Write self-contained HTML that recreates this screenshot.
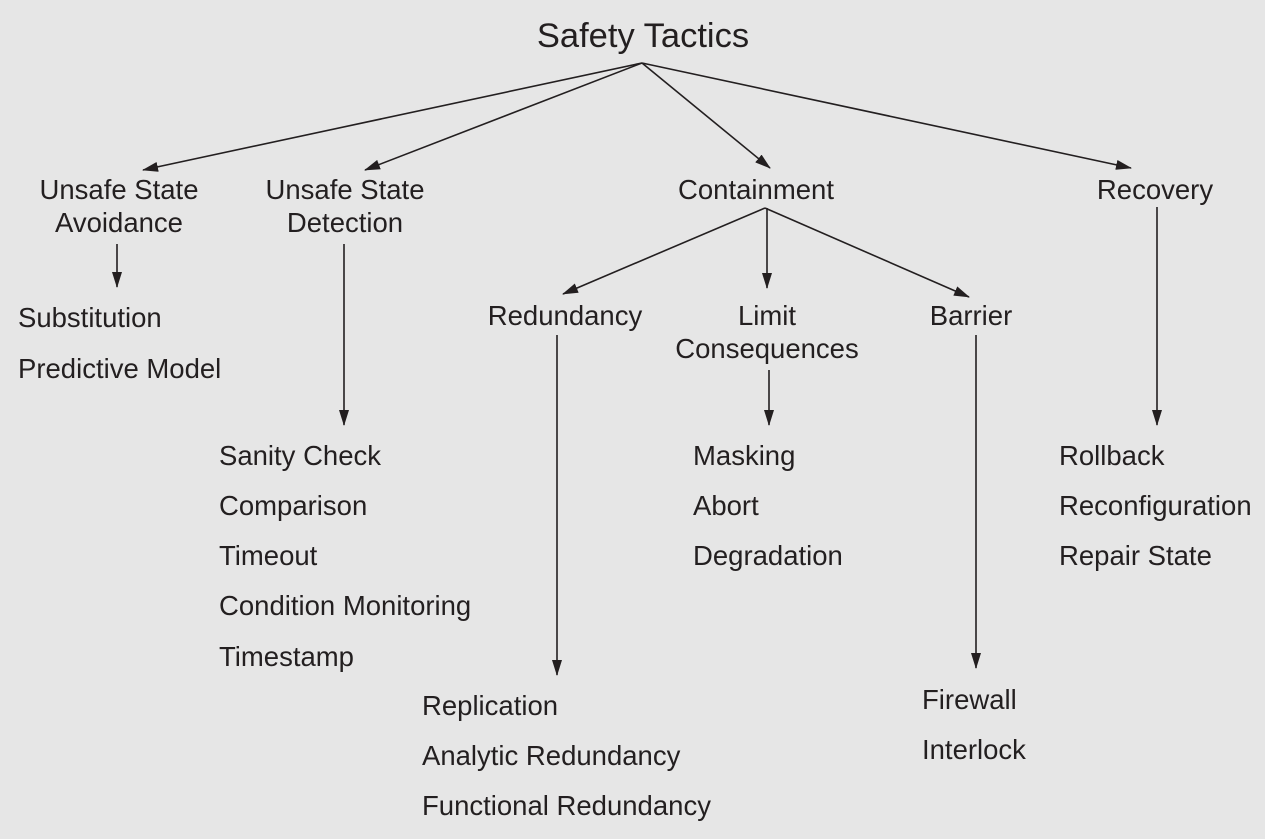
<!DOCTYPE html>
<html><head><meta charset="utf-8"><style>
html,body{margin:0;padding:0;background:#e6e6e6;}
svg{display:block;}
text{font-family:"Liberation Sans",Arial,sans-serif;fill:#231f20;font-size:27.5px;}
</style></head><body>
<svg width="1265" height="839" viewBox="0 0 1265 839" xmlns="http://www.w3.org/2000/svg">
<defs><marker id="a" markerWidth="16" markerHeight="10" refX="15" refY="5" orient="auto" markerUnits="userSpaceOnUse"><path d="M0,0 L16,5 L0,10 Z" fill="#231f20"/></marker></defs>
<g stroke="#231f20" stroke-width="1.6" fill="none" marker-end="url(#a)">
<line x1="642" y1="63" x2="143" y2="170"/>
<line x1="642" y1="63" x2="365" y2="170"/>
<line x1="642" y1="63" x2="770" y2="168"/>
<line x1="642" y1="63" x2="1131" y2="168"/>
<line x1="117" y1="244" x2="117" y2="287"/>
<line x1="344" y1="244" x2="344" y2="425"/>
<line x1="765" y1="208" x2="563" y2="294"/>
<line x1="767" y1="208" x2="767" y2="288"/>
<line x1="765" y1="208" x2="969" y2="297"/>
<line x1="1157" y1="207" x2="1157" y2="425"/>
<line x1="557" y1="335" x2="557" y2="675"/>
<line x1="769" y1="370" x2="769" y2="425"/>
<line x1="976" y1="335" x2="976" y2="668"/>
</g>
<text x="643" y="47" text-anchor="middle" style="font-size:34.5px">Safety Tactics</text>
<g text-anchor="middle">
<text x="119" y="199">Unsafe State</text><text x="119" y="232">Avoidance</text>
<text x="345" y="199">Unsafe State</text><text x="345" y="232">Detection</text>
<text x="756" y="199">Containment</text>
<text x="1155" y="199">Recovery</text>
<text x="565" y="325">Redundancy</text>
<text x="767" y="325">Limit</text><text x="767" y="358">Consequences</text>
<text x="971" y="325">Barrier</text>
</g>
<text x="18" y="327">Substitution</text>
<text x="18" y="378">Predictive Model</text>
<text x="219" y="465">Sanity Check</text>
<text x="219" y="515">Comparison</text>
<text x="219" y="565">Timeout</text>
<text x="219" y="615">Condition Monitoring</text>
<text x="219" y="666">Timestamp</text>
<text x="422" y="715">Replication</text>
<text x="422" y="765">Analytic Redundancy</text>
<text x="422" y="815">Functional Redundancy</text>
<text x="693" y="465">Masking</text>
<text x="693" y="515">Abort</text>
<text x="693" y="565">Degradation</text>
<text x="922" y="709">Firewall</text>
<text x="922" y="759">Interlock</text>
<text x="1059" y="465">Rollback</text>
<text x="1059" y="515">Reconfiguration</text>
<text x="1059" y="565">Repair State</text>
</svg>
</body></html>
